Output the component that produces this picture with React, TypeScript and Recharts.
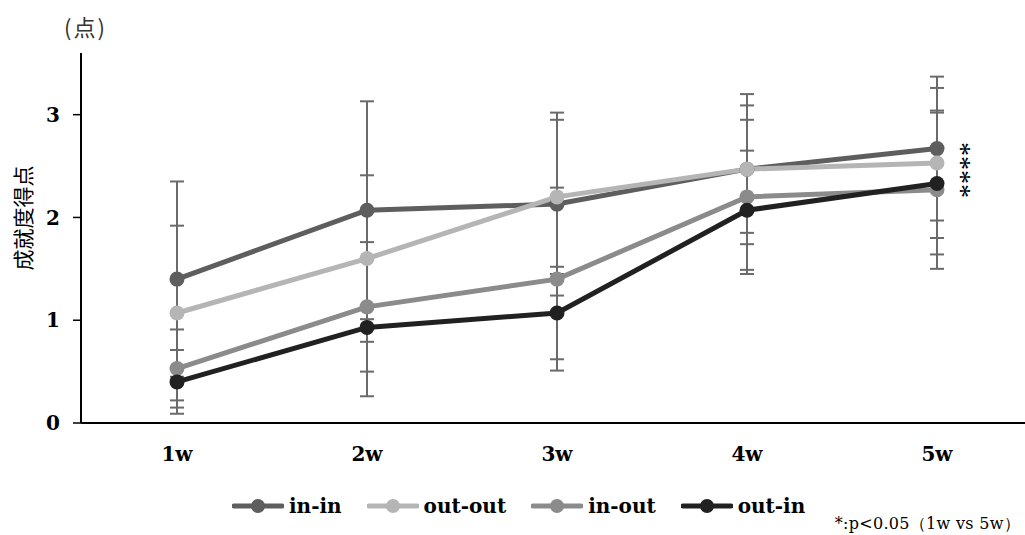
import { LineChart, Line, XAxis, YAxis, ErrorBar } from "recharts";

const weeks = ["1w", "2w", "3w", "4w", "5w"];

const inIn = [1.4, 2.07, 2.13, 2.47, 2.67];
const inInSd = [0.95, 1.06, 0.89, 0.73, 0.7];
const outOut = [1.07, 1.6, 2.2, 2.47, 2.53];
const outOutSd = [0.85, 0.81, 0.75, 0.62, 0.73];
const inOut = [0.53, 1.13, 1.4, 2.2, 2.27];
const inOutSd = [0.38, 0.63, 0.89, 0.75, 0.77];
const outIn = [0.4, 0.93, 1.07, 2.07, 2.33];
const outInSd = [0.31, 0.67, 0.45, 0.58, 0.69];

const yTicks = [0, 1, 2, 3];

const series = [
  { key: "inIn", name: "in-in", color: "#5e5e5e" },
  { key: "outOut", name: "out-out", color: "#b5b5b5" },
  { key: "inOut", name: "in-out", color: "#8b8b8b" },
  { key: "outIn", name: "out-in", color: "#212121" },
];

const data = weeks.map((w, i) => ({
  week: w,
  inIn: inIn[i],
  inInSd: inInSd[i],
  outOut: outOut[i],
  outOutSd: outOutSd[i],
  inOut: inOut[i],
  inOutSd: inOutSd[i],
  outIn: outIn[i],
  outInSd: outInSd[i],
}));

const serif = "'DejaVu Serif', serif";
const jp = "'Noto Sans CJK JP', sans-serif";

export default function App() {
  return (
    <div style={{ position: "absolute", left: 0, top: 0, width: 1025, height: 535, background: "#fff" }}>
      <LineChart
        width={1025}
        height={535}
        data={data}
        margin={{ top: 53, right: 0, left: 0, bottom: 0 }}
      >
        <XAxis
          dataKey="week"
          scale="point"
          padding={{ left: 96, right: 88 }}
          height={112}
          tickLine={false}
          tickSize={8}
          tickMargin={16}
          axisLine={{ stroke: "#000", strokeWidth: 2 }}
          tick={{ fill: "#000", fontSize: 20, fontWeight: "bold", fontFamily: serif }}
        />
        <YAxis
          width={81}
          domain={[0, 3.6]}
          ticks={yTicks}
          tickSize={8}
          tickMargin={13}
          axisLine={{ stroke: "#000", strokeWidth: 2 }}
          tickLine={{ stroke: "#000", strokeWidth: 1.5 }}
          tick={{ fill: "#000", fontSize: 20, fontWeight: "bold", fontFamily: serif }}
        />
        {/* error bars first so they sit behind every line */}
        {series.map((s) => (
          <Line
            key={s.key + "-err"}
            dataKey={s.key}
            stroke="none"
            dot={false}
            activeDot={false}
            legendType="none"
            isAnimationActive={false}
          >
            <ErrorBar dataKey={s.key + "Sd"} width={7} stroke="#6a6a6a" strokeWidth={2} />
          </Line>
        ))}
        {series.map((s) => (
          <Line
            key={s.key}
            dataKey={s.key}
            name={s.name}
            stroke={s.color}
            strokeWidth={5}
            dot={{ r: 7.5, fill: s.color, stroke: s.color, strokeWidth: 0 }}
            activeDot={false}
            isAnimationActive={false}
          />
        ))}
      </LineChart>

      <div style={{ position: "absolute", left: 64, top: 10, fontFamily: jp, fontSize: 22, letterSpacing: 2, color: "#333" }}>
        (点)
      </div>

      <div
        style={{
          position: "absolute",
          left: 22,
          top: 218,
          transform: "translate(-50%, -50%) rotate(-90deg)",
          fontFamily: jp,
          fontSize: 21,
          color: "#000",
          whiteSpace: "nowrap",
        }}
      >
        成就度得点
      </div>

      <div
        style={{
          position: "absolute",
          left: 961,
          top: 170,
          transform: "translate(-50%, -50%) rotate(90deg)",
          fontFamily: "'Liberation Serif', serif",
          fontSize: 28,
          letterSpacing: 0,
          color: "#000",
          whiteSpace: "nowrap",
        }}
      >
        ****
      </div>

      <div
        style={{
          position: "absolute",
          left: 232,
          top: 494,
          display: "flex",
          alignItems: "center",
          fontFamily: serif,
          fontWeight: "bold",
          fontSize: 20,
          color: "#000",
        }}
      >
        {series.map((s) => (
          <div key={s.key} style={{ display: "flex", alignItems: "center", marginRight: 25 }}>
            <svg width={52} height={16} style={{ marginRight: 5 }}>
              <line x1={2} y1={8} x2={50} y2={8} stroke={s.color} strokeWidth={5} strokeLinecap="round" />
              <circle cx={26} cy={8} r={7} fill={s.color} />
            </svg>
            <span>{s.name}</span>
          </div>
        ))}
      </div>

      <div
        style={{
          position: "absolute",
          right: 5,
          top: 514,
          fontFamily: serif,
          fontSize: 16,
          letterSpacing: 0.3,
          color: "#000",
          whiteSpace: "nowrap",
        }}
      >
        *:p&lt;0.05（1w vs 5w）
      </div>
    </div>
  );
}
